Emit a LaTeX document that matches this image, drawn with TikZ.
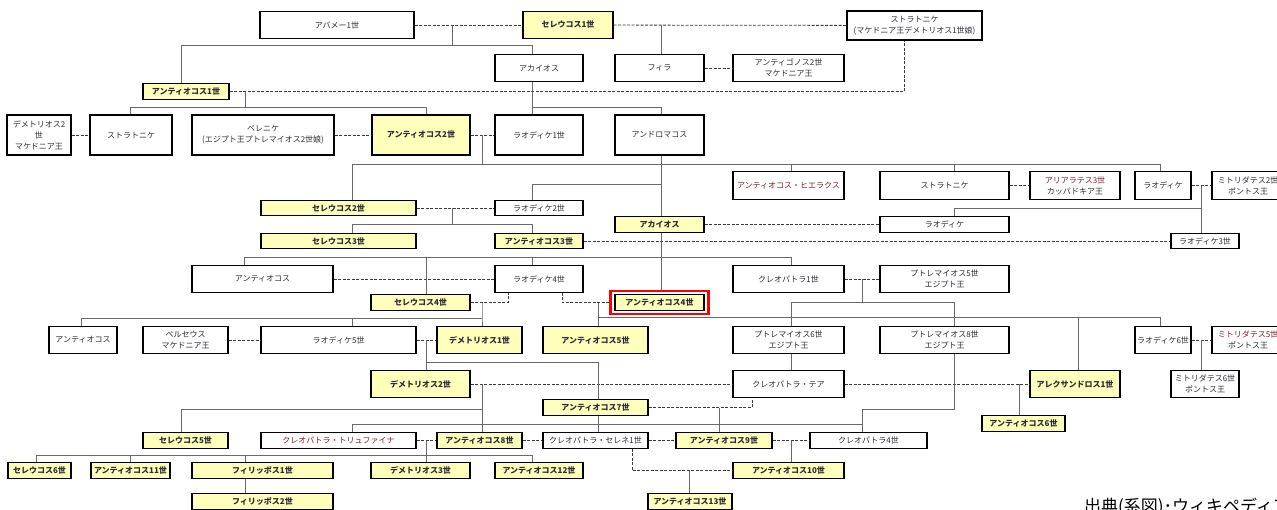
\documentclass[tikz,border=0pt]{standalone}
\usepackage{fontspec}
\setmainfont{Noto Sans CJK JP}
\definecolor{kingfill}{RGB}{255,255,188}
\definecolor{txt}{RGB}{45,45,55}
\definecolor{redtxt}{RGB}{125,30,45}
\definecolor{linegray}{RGB}{105,105,105}
\definecolor{dashgray}{RGB}{60,60,60}

\begin{document}
\begin{tikzpicture}[x=1pt,y=-1pt]
 \tikzstyle{pers}=[draw, line width=1.4pt, fill=white, inner sep=1pt, align=center, text=txt, font=\fontsize{8}{11}\selectfont]
 \tikzstyle{king}=[pers, fill=kingfill, font=\fontsize{8}{11}\selectfont\bfseries]
 \tikzstyle{hTall}=[minimum height=40pt]
 \tikzstyle{hMid}=[minimum height=27.5pt]
 \tikzstyle{hSlim}=[minimum height=15.5pt]
 \tikzstyle{wed}=[dash pattern=on 3pt off 1.5pt, line width=0.8pt, color=dashgray]
 \tikzstyle{kin}=[line width=0.9pt, color=linegray]
 \useasboundingbox (0,0) rectangle (1277,509);
 \clip (0,0) rectangle (1277,509);
 \fill[white] (0,0) rectangle (1277,509);

 \node[pers, hMid, minimum width=154] (apame) at (337,25) {アパメー1世};
 \node[king, hMid, minimum width=90] (sel1) at (568,25) {セレウコス1世};
 \node[pers, minimum height=29, minimum width=135] (strat0) at (914.5,25.5) {ストラトニケ\\(マケドニア王デメトリオス1世娘)};

 \node[pers, hMid, minimum width=88] (ach0) at (539,68) {アカイオス};
 \node[pers, hMid, minimum width=89] (phila) at (659.5,68) {フィラ};
 \node[pers, hMid, minimum width=111] (antig2) at (788.5,68) {アンティゴノス2世\\マケドニア王};
 \node[king, hSlim, minimum width=86] (ant1) at (186,91.5) {アンティオコス1世};

 \node[pers, hTall, minimum width=64] (dem2m) at (39,135) {デメトリオス2\\世\\マケドニア王};
 \node[pers, hTall, minimum width=82] (strat1) at (131,135) {ストラトニケ};
 \node[pers, hTall, minimum width=142] (berenice) at (263,135) {ベレニケ\\(エジプト王プトレマイオス2世娘)};
 \node[king, hTall, minimum width=98] (ant2) at (421,135) {アンティオコス2世};
 \node[pers, hTall, minimum width=88] (lao1) at (539,135) {ラオディケ1世};
 \node[pers, hTall, minimum width=89] (andro) at (659.5,135) {アンドロマコス};

 \node[pers, hMid, minimum width=111, text=redtxt] (hierax) at (788.5,185.5) {アンティオコス・ヒエラクス};
 \node[pers, hMid, minimum width=129] (strat2) at (944.5,185.5) {ストラトニケ};
 \node[pers, hMid, minimum width=90] (ariar) at (1075,185.5) {{\color{redtxt}アリアラテス3世}\\カッパドキア王};
 \node[pers, hMid, minimum width=56] (laoA) at (1163,185.5) {ラオディケ};
 \node[pers, hMid, minimum width=72] (mith2) at (1248,185.5) {ミトリダテス2世\\ポントス王};

 \node[king, hSlim, minimum width=155] (sel2) at (338.5,208) {セレウコス2世};
 \node[pers, hSlim, minimum width=88] (lao2) at (539,208) {ラオディケ2世};
 \node[king, hSlim, minimum width=89] (ach) at (659.5,224.5) {アカイオス};
 \node[pers, hSlim, minimum width=129] (laoB) at (944.5,224.5) {ラオディケ};
 \node[king, hSlim, minimum width=155] (sel3) at (338.5,241) {セレウコス3世};
 \node[king, hSlim, minimum width=88] (ant3) at (539,241) {アンティオコス3世};
 \node[pers, hSlim, minimum width=68] (lao3) at (1205,241) {ラオディケ3世};

 \node[pers, hMid, minimum width=141] (antA) at (262.5,279) {アンティオコス};
 \node[pers, hMid, minimum width=88] (lao4) at (539,279) {ラオディケ4世};
 \node[pers, hMid, minimum width=111] (cleo1) at (788.5,279) {クレオパトラ1世};
 \node[pers, hMid, minimum width=129] (ptol5) at (944.5,279) {プトレマイオス5世\\エジプト王};
 \node[king, hSlim, minimum width=99] (sel4) at (420.5,302.5) {セレウコス4世};
 \node[draw=red, line width=2.8pt, minimum width=98, minimum height=23] (a4frame) at (659.5,302.5) {};
 \node[king, hSlim, minimum width=89] (ant4) at (659.5,302.5) {アンティオコス4世};

 \node[pers, hMid, minimum width=68] (antB) at (83,340) {アンティオコス};
 \node[pers, hMid, minimum width=85] (perseus) at (185.5,340) {ペルセウス\\マケドニア王};
 \node[pers, hMid, minimum width=155] (lao5) at (338.5,340) {ラオディケ5世};
 \node[king, hMid, minimum width=85] (dem1) at (479.5,340) {デメトリオス1世};
 \node[king, hMid, minimum width=105] (ant5) at (595.5,340) {アンティオコス5世};
 \node[pers, hMid, minimum width=111] (ptol6) at (788.5,340) {プトレマイオス6世\\エジプト王};
 \node[pers, hMid, minimum width=129] (ptol8) at (944.5,340) {プトレマイオス8世\\エジプト王};
 \node[pers, hMid, minimum width=56] (lao6) at (1163,340) {ラオディケ6世};
 \node[pers, hMid, minimum width=72] (mith5) at (1248,340) {{\color{redtxt}ミトリダテス5世}\\ポントス王};

 \node[king, hMid, minimum width=99] (dem2) at (420.5,384) {デメトリオス2世};
 \node[pers, hMid, minimum width=111] (thea) at (788.5,384) {クレオパトラ・テア};
 \node[king, hMid, minimum width=90] (alex1) at (1075,384) {アレクサンドロス1世};
 \node[pers, hMid, minimum width=68] (mith6) at (1205,384) {ミトリダテス6世\\ポントス王};
 \node[king, hSlim, minimum width=105] (ant7) at (595.5,407.5) {アンティオコス7世};
 \node[king, hSlim, minimum width=83] (ant6) at (1023.5,423.5) {アンティオコス6世};

 \node[king, hSlim, minimum width=85] (sel5) at (185.5,440.5) {セレウコス5世};
 \node[pers, hSlim, minimum width=155, text=redtxt] (tryph) at (338.5,440.5) {クレオパトラ・トリュファイナ};
 \node[king, hSlim, minimum width=85] (ant8) at (479.5,440.5) {アンティオコス8世};
 \node[pers, hSlim, minimum width=105] (selene) at (595.5,440.5) {クレオパトラ・セレネ1世};
 \node[king, hSlim, minimum width=96] (ant9) at (724,440.5) {アンティオコス9世};
 \node[pers, hSlim, minimum width=117] (cleo4) at (868.5,440.5) {クレオパトラ4世};

 \node[king, hSlim, minimum width=63] (sel6) at (39.5,470.5) {セレウコス6世};
 \node[king, hSlim, minimum width=79] (ant11) at (130.5,470.5) {アンティオコス11世};
 \node[king, hSlim, minimum width=141] (phil1) at (262.5,470.5) {フィリッポス1世};
 \node[king, hSlim, minimum width=99] (dem3) at (420.5,470.5) {デメトリオス3世};
 \node[king, hSlim, minimum width=88] (ant12) at (539,470.5) {アンティオコス12世};
 \node[king, hSlim, minimum width=111] (ant10) at (788.5,470.5) {アンティオコス10世};
 \node[king, hSlim, minimum width=141] (phil2) at (262.5,501.5) {フィリッポス2世};
 \node[king, hSlim, minimum width=84] (ant13) at (690,501.5) {アンティオコス13世};

 \node[anchor=base west, inner sep=0, text=black, font=\fontsize{17}{17}\selectfont] (source) at (1084,512) {出典(系図)･ウィキペディア};

 \draw[wed] (apame) -- (sel1);
 \draw[wed] (sel1) -- (strat0);
 \draw[wed] (phila) -- (antig2);
 \draw[wed] (ant1.east) -| ([xshift=-10]strat0.south);
 \draw[wed] (dem2m) -- (strat1);
 \draw[wed] (berenice) -- (ant2);
 \draw[wed] (ant2) -- (lao1);
 \draw[wed] (sel2) -- (lao2);
 \draw[wed] (strat2) -- (ariar);
 \draw[wed] (laoA) -- (mith2);
 \draw[wed] (ach) -- (laoB);
 \draw[wed] (ant3) -- (lao3);
 \draw[wed] (antA) -- (lao4);
 \draw[wed] (cleo1) -- (ptol5);
 \draw[wed] (sel4.east) -| ([xshift=-31]lao4.south);
 \draw[wed] (a4frame.west) -| ([xshift=23]lao4.south);
 \draw[wed] (perseus) -- (lao5);
 \draw[wed] (lao5) -- (dem1);
 \draw[wed] (lao6) -- (mith5);
 \draw[wed] (dem2) -- (thea);
 \draw[wed] (thea) -- (alex1);
 \draw[wed] (ant7.east) -| ([xshift=-36.5]thea.south);
 \draw[wed] (tryph) -- (ant8);
 \draw[wed] (ant8) -- (selene);
 \draw[wed] (selene) -- (ant9);
 \draw[wed] (ant9) -- (cleo4);
 \draw[wed] ([xshift=36.5]selene.south) |- (ant10.west);

 \coordinate (mA) at (452,25);   \coordinate (bA) at (452,45);
 \coordinate (mB) at (661,25);
 \coordinate (mC) at (245,91.5); \coordinate (bC) at (245,107);
 \coordinate (bD) at (532,107);
 \coordinate (mE) at (482,135);  \coordinate (bE) at (482,164);
 \coordinate (bF) at (661,184);
 \coordinate (mG) at (452,208);  \coordinate (bG) at (452,224);
 \coordinate (mH) at (1201,185.5); \coordinate (bH) at (1201,208);
 \coordinate (mI) at (661,241);  \coordinate (bI) at (661,257);
 \coordinate (mJ) at (482,302.5); \coordinate (bJ) at (482,318);
 \coordinate (mK) at (598,302.5); \coordinate (bK) at (598,317);
 \coordinate (mL) at (862,279);  \coordinate (bL) at (862,302);
 \coordinate (mM) at (1201,340);
 \coordinate (mN) at (426,340);  \coordinate (bN) at (426,362);
 \coordinate (mP) at (1019,384);
 \coordinate (mQ) at (482,384);  \coordinate (bQ) at (482,409);
 \coordinate (mR) at (719,407.5);
 \coordinate (bS) at (862,409);  \coordinate (bS2) at (862,424);
 \coordinate (mT) at (426,440.5); \coordinate (bT) at (426,455);
 \coordinate (mV) at (791,440.5);
 \coordinate (mW) at (689,470.5);

 \draw[kin] (mA) -- (bA) -| ([xshift=-5]ant1.north);
 \draw[kin] (bA) -| ([xshift=-7]ach0.north);
 \draw[kin] (mB) -- (mB |- phila.north);
 \draw[kin] (mC) -- (bC) -| ([xshift=-1]strat1.north);
 \draw[kin] (bC) -| ([xshift=5]ant2.north);
 \draw[kin] ([xshift=-7]ach0.south) -- ([xshift=-7]lao1.north);
 \draw[kin] (bD) -| ([xshift=1.5]andro.north);
 \draw[kin] (mE) -- (bE) -| ([xshift=13.5]sel2.north);
 \foreach \n/\s in {hierax/2.5, strat2/9.5, laoA/-3}{
   \draw[kin] (bE) -| ([xshift=\s]\n.north);
 }
 \draw[kin] ([xshift=1.5]andro.south) -- ([xshift=1.5]ach.north);
 \draw[kin] (bF) -| ([xshift=-7]lao2.north);
 \draw[kin] (mG) -- (bG) -| ([xshift=13.5]sel3.north);
 \draw[kin] (bG) -| ([xshift=-7]ant3.north);
 \draw[kin] (mH) -- ([xshift=-4]lao3.north);
 \draw[kin] (bH) -| ([xshift=9.5]laoB.north);
 \draw[kin] ([xshift=1.5]ach.south) -- ([xshift=1.5]a4frame.north);
 \foreach \n/\s in {antA/-18.5, sel4/5.5, lao4/-7, cleo1/2.5}{
   \draw[kin] (bI) -| ([xshift=\s]\n.north);
 }
 \draw[kin] (mJ) -- (bJ) -- ([xshift=2.5]dem1.north);
 \draw[kin] (bJ) -| ([xshift=-2]antB.north);
 \draw[kin] (bJ) -| ([xshift=13.5]lao5.north);
 \draw[kin] (mK) -- ([xshift=2.5]ant5.north);
 \draw[kin] (bK) -| ([xshift=3]alex1.north);
 \draw[kin] (bK) -| ([xshift=-3]lao6.north);
 \draw[kin] (mL) -- (bL) -| ([xshift=2.5]ptol6.north);
 \draw[kin] (bL) -| ([xshift=9.5]ptol8.north);
 \draw[kin] (mM) -- ([xshift=-4]mith6.north);
 \draw[kin] (mN) -- ([xshift=5.5]dem2.north);
 \draw[kin] (bN) -| ([xshift=2.5]ant7.north);
 \draw[kin] ([xshift=2.5]ptol6.south) -- ([xshift=2.5]thea.north);
 \draw[kin] (mP) -- ([xshift=-4.5]ant6.north);
 \draw[kin] (mQ) -- ([xshift=2.5]ant8.north);
 \draw[kin] (bQ) -| ([xshift=-4.5]sel5.north);
 \draw[kin] (mR) -- ([xshift=-5]ant9.north);
 \draw[kin] ([xshift=9.5]ptol8.south) |- (bS) -- ([xshift=-6.5]cleo4.north);
 \draw[kin] (bS2) -| ([xshift=13.5]tryph.north);
 \draw[kin] ([xshift=2.5]ant7.south) -- ([xshift=2.5]selene.north);
 \draw[kin] (mT) -- ([xshift=5.5]dem3.north);
 \foreach \n/\s in {sel6/-3.5, ant11/-0.5, phil1/-17.5, ant12/-7}{
   \draw[kin] (bT) -| ([xshift=\s]\n.north);
 }
 \draw[kin] ([xshift=-17.5]phil1.south) -- ([xshift=-17.5]phil2.north);
 \draw[kin] (mV) -- ([xshift=2.5]ant10.north);
 \draw[kin] (mW) -- ([xshift=-1]ant13.north);
\end{tikzpicture}
\end{document}
